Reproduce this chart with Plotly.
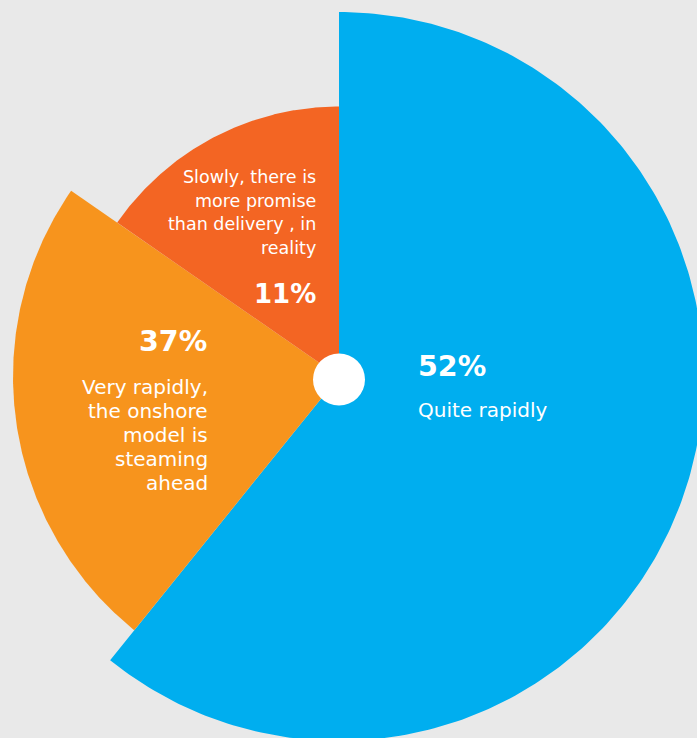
import numpy as np
import plotly.graph_objects as go

# Survey answers
answers = ["Quite rapidly",
           "Very rapidly,<br>the onshore<br>model is<br>steaming<br>ahead",
           "Slowly, there is<br>more promise<br>than delivery , in<br>reality"]
shares = [52, 37, 11]
# Wedge geometry of the rose chart (degrees clockwise from 12 o'clock, radius units)
sweep_deg = [218.9, 85.85, 55.25]
outer_r = [364.5, 326, 270]
colors = ["#00AEEF", "#F7941D", "#F36523"]

W, H = 697, 738
CX, CY = 339, 376.5        # chart centre in page pixels
HOLE_R = 26
HOLE_DY = -3               # hub sits a touch below the wedge apex

fig = go.Figure()

start = 0.0
for sweep, r, col in zip(sweep_deg, outer_r, colors):
    ang = np.radians(np.linspace(start, start + sweep, 240))
    xs = np.concatenate([[0], r * np.sin(ang), [0]])
    ys = np.concatenate([[0], r * np.cos(ang), [0]])
    fig.add_trace(go.Scatter(
        x=xs, y=ys, mode="lines", fill="toself", fillcolor=col,
        line=dict(width=0, color=col), hoverinfo="skip", showlegend=False,
    ))
    start += sweep

# white hub in the middle
fig.add_shape(type="circle", xref="x", yref="y",
              x0=-HOLE_R, y0=HOLE_DY - HOLE_R, x1=HOLE_R, y1=HOLE_DY + HOLE_R,
              fillcolor="white", line=dict(width=0), layer="above")

fig.update_layout(
    width=W, height=H,
    margin=dict(l=0, r=0, t=0, b=0),
    paper_bgcolor="#E9E9E9",
    plot_bgcolor="#E9E9E9",
    xaxis=dict(visible=False, range=[-CX, W - CX], fixedrange=True),
    yaxis=dict(visible=False, range=[-(H - CY), CY], fixedrange=True),
)

FONT = "DejaVu Sans"


def label(text, x, y, xa, size, bold=False):
    fig.add_annotation(
        text=f"<b>{text}</b>" if bold else text,
        x=x - CX, y=CY - y, xref="x", yref="y",
        xanchor=xa, yanchor="middle", align=xa,
        showarrow=False,
        font=dict(family=FONT, size=size, color="white"),
    )


# Quite rapidly
label(f"{shares[0]}%", 416, 366, "left", 28.5, True)
label(answers[0], 416, 410, "left", 20)

# Very rapidly
label(f"{shares[1]}%", 209, 341, "right", 28.5, True)
for i, line in enumerate(answers[1].split("<br>")):
    label(line, 210, 387 + 24 * i, "right", 20)

# Slowly
label(f"{shares[2]}%", 318, 294, "right", 26, True)
for i, line in enumerate(answers[2].split("<br>")):
    label(line, 318, 177 + 23.7 * i, "right", 17.5)

fig.write_html("out.html")
